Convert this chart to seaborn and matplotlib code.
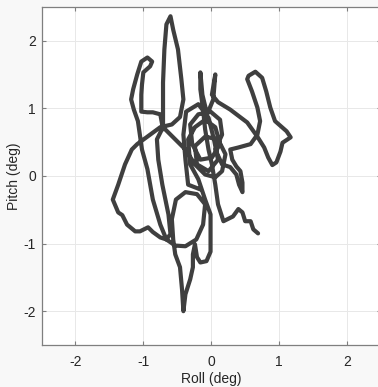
import pandas as pd
import matplotlib
matplotlib.use("Agg")
import matplotlib.pyplot as plt
import seaborn as sns

# Attitude trace, degrees (in drawing order)
roll = [
    0.69, 0.62, 0.58, 0.50, 0.46, 0.40, 0.32, 0.18, 0.10, 0.06,
    0.01, -0.04, -0.09, -0.12, -0.16, -0.16, -0.13, -0.06, 0.03, 0.06, 0.01,
    0.10, 0.28, 0.53, 0.68, 0.78, 0.84, 0.90, 0.96, 1.02, 1.05, 1.17, 1.11,
    0.94, 0.87, 0.81, 0.75, 0.65, 0.55, 0.53, 0.60, 0.68, 0.72, 0.68, 0.58,
    0.40, 0.28,
    0.31, 0.37, 0.43, 0.46, 0.46, 0.41, 0.37, 0.28, 0.16,
    0.06, 0.16, 0.13, -0.01, -0.19, -0.31, -0.28, -0.16, 0.01, 0.13, 0.06,
    -0.09, -0.24, -0.34, -0.31, -0.19,
    -0.09, -0.01, -0.01, -0.01, -0.07, -0.16, -0.21, -0.24, -0.27, -0.27,
    -0.31, -0.38, -0.41, -0.43, -0.46, -0.53, -0.56, -0.58, -0.52, -0.38,
    -0.21, -0.09, -0.12, -0.22, -0.38, -0.53, -0.66,
    -0.75, -0.86, -0.93, -1.05, -1.12, -1.24, -1.31, -1.37, -1.45, -1.37,
    -1.27, -1.17, -1.09, -0.90, -0.75, -0.58,
    -0.46, -0.41, -0.44, -0.49, -0.56, -0.60, -0.66, -0.69, -0.71, -0.71, -0.71,
    -0.75, -0.86, -0.94, -1.03, -1.03, -1.02, -1.00, -0.90, -0.87, -0.94,
    -1.03, -1.09, -1.15, -1.18, -1.14, -1.08,
    -1.02, -0.94, -0.86, -0.75, -0.66, -0.60, -0.63, -0.72, -0.78, -0.80,
    -0.71, -0.53, -0.38, -0.24, -0.09, 0.06, 0.16,
    0.21, 0.10, -0.09, -0.24, -0.21, -0.04, 0.10, 0.04, -0.04, -0.19,
    -0.37, -0.41, -0.38, -0.34, -0.16,
]
pitch = [
    -0.85, -0.79, -0.67, -0.67, -0.54, -0.49, -0.60, -0.67, -0.42, -0.13,
    0.17, 0.39, 0.69, 0.98, 1.28, 1.53, 1.20, 0.91, 1.13, 1.50, 1.20,
    1.09, 0.98, 0.79, 0.58, 0.42, 0.27, 0.16, 0.20, 0.36, 0.49, 0.57, 0.66,
    0.81, 1.01, 1.25, 1.45, 1.54, 1.48, 1.43, 1.25, 1.01, 0.81, 0.61, 0.47,
    0.42, 0.39,
    0.24, 0.14, 0.07, -0.10, -0.24, -0.13, 0.02, 0.13, 0.17,
    0.39, 0.61, 0.83, 0.95, 0.91, 0.76, 0.47, 0.24, 0.27, 0.47, 0.72,
    0.83, 0.72, 0.54, 0.17, -0.05,
    -0.35, -0.57, -0.86, -1.12, -1.26, -1.28, -1.20, -1.01, -1.16, -1.35,
    -1.53, -1.75, -2.00, -1.68, -1.35, -1.16, -0.94, -0.64, -0.35, -0.24,
    -0.27, -0.42, -0.72, -0.94, -1.04, -1.03, -0.94,
    -0.91, -0.83, -0.76, -0.82, -0.82, -0.72, -0.58, -0.54, -0.35, -0.13,
    0.17, 0.39, 0.47, 0.61, 0.72, 0.76,
    0.87, 1.13, 1.43, 1.87, 2.16, 2.36, 2.24, 1.87, 1.38, 0.98, 0.69,
    0.91, 0.94, 0.94, 0.95, 1.20, 1.35, 1.53, 1.62, 1.69, 1.75,
    1.69, 1.50, 1.28, 1.13, 0.98, 0.81,
    0.39, 0.10, -0.35, -0.72, -0.94, -0.86, -0.57, -0.13, 0.24, 0.54,
    0.72, 0.54, 0.39, 0.17, 0.02, -0.02, 0.07,
    0.32, 0.54, 0.58, 0.44, 0.17, 0.07, 0.24, 0.54, 0.86, 1.06,
    0.95, 0.61, 0.24, -0.13, -0.20,
]
ticks = [-2, -1, 0, 1, 2]

df = pd.DataFrame({"roll": roll, "pitch": pitch})

sns.set_theme(style="whitegrid")
plt.rcParams["font.family"] = ["Liberation Sans", "DejaVu Sans"]
plt.rcParams["axes.unicode_minus"] = False

fig = plt.figure(figsize=(3.78, 3.87), dpi=100, facecolor="#f8f8f8")
ax = fig.add_axes([0.1098, 0.1085, 0.898, 0.874])
ax.set_facecolor("white")

sns.lineplot(data=df, x="roll", y="pitch", sort=False, estimator=None,
             color="#3f3f3f", linewidth=3.0, ax=ax,
             solid_joinstyle="round", solid_capstyle="round")

ax.set_xlim(-2.5, 2.5)
ax.set_ylim(-2.5, 2.5)
ax.set_xticks(ticks)
ax.set_yticks(ticks)
ax.grid(True, color="#e8e8e8", linewidth=0.7)
for s in ax.spines.values():
    s.set_color("#7f7f7f")
    s.set_linewidth(0.9)
ax.tick_params(direction="in", length=3, width=0.8, color="#7f7f7f",
               labelsize=10, labelcolor="#262626", top=True, right=True,
               bottom=True, left=True)
ax.tick_params(axis="x", pad=7)
ax.tick_params(axis="y", pad=4)
ax.set_xlabel("Roll (deg)", fontsize=10, color="#262626", labelpad=2)
ax.set_ylabel("Pitch (deg)", fontsize=10, color="#262626", labelpad=2)

fig.savefig("out.png", dpi=100, facecolor=fig.get_facecolor())
